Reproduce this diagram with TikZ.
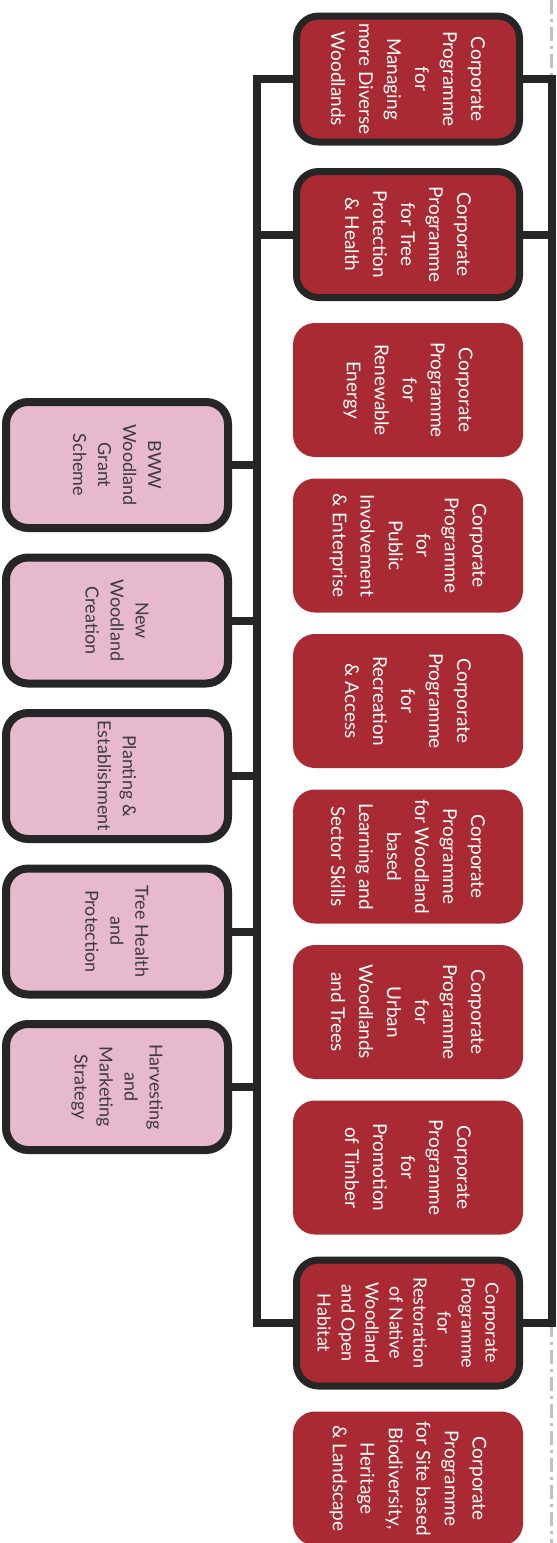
\documentclass[tikz,border=0pt]{standalone}
\usepackage{fontspec}
\setmainfont{Lato}
\usetikzlibrary{positioning,calc}
\definecolor{progred}{HTML}{A92A32}
\definecolor{themepink}{HTML}{E6B9CC}
\definecolor{linegrey}{HTML}{262626}
\definecolor{sepgrey}{HTML}{C0C0C0}

\tikzset{
  progbox/.style={rotate=-90, rounded corners=22pt, fill=progred, text=white, align=center,
    inner sep=0pt, minimum width=134pt, minimum height=230pt,
    font=\fontsize{19}{28}\selectfont},
  linkbox/.style={progbox, draw=linegrey, line width=7pt, minimum width=126pt, minimum height=223pt},
  themebox/.style={rotate=-90, rounded corners=22pt, fill=themepink, draw=linegrey, line width=8pt,
    text=linegrey!90, align=center, inner sep=0pt, minimum width=126pt, minimum height=222pt,
    font=\fontsize{18}{25}\selectfont},
  link/.style={draw=linegrey, line width=8pt}
}

\begin{document}
\begin{tikzpicture}[x=1pt, y=-1pt]
  \useasboundingbox (0,0) rectangle (557,1543);

  % Separator (runs under the right bracket)
  \draw[sepgrey, line width=3pt, dash pattern=on 14pt off 5pt on 3pt off 5pt] (551.5,0) -- (551.5,1543);

  % Corporate programmes (rotated: north = right, south = left)
  \node[linkbox] (manage) at (408,79) {Corporate\\Programme\\for\\Managing\\more Diverse\\Woodlands};
  \node[linkbox] (health) at (408,234.5) {Corporate\\Programme\\for Tree\\Protection\\\& Health};
  \node[progbox] (energy) at (408,390) {Corporate\\Programme\\for\\Renewable\\Energy};
  \node[progbox] (public) at (408,545.5) {Corporate\\Programme\\for\\Public\\Involvement\\\& Enterprise};
  \node[progbox] (recreation) at (408,701) {Corporate\\Programme\\for\\Recreation\\\& Access};
  \node[progbox] (learning) at (408,856.5) {Corporate\\Programme\\for Woodland\\based\\Learning and\\Sector Skills};
  \node[progbox] (urban) at (408,1012) {Corporate\\Programme\\for\\Urban\\Woodlands\\and Trees};
  \node[progbox] (timber) at (408,1167.5) {Corporate\\Programme\\for\\Promotion\\of Timber};
  \node[linkbox, font=\fontsize{18}{24}\selectfont] (native) at (408,1323)
    {Corporate\\Programme\\for\\Restoration\\of Native\\Woodland\\and Open\\Habitat};
  \node[progbox] (heritage) at (408,1478.5) {Corporate\\Programme\\for Site based\\Biodiversity,\\Heritage\\\& Landscape};

  % Themes
  \node[themebox] (grant) at (117,465) {BWW\\Woodland\\Grant\\Scheme};
  \node[themebox] (creation) at (117,620.5) {New\\Woodland\\Creation};
  \node[themebox] (planting) at (117,776) {Planting \&\\Establishment};
  \node[themebox] (treehealth) at (117,931.5) {Tree Health\\and\\Protection};
  \node[themebox] (harvest) at (117,1087) {Harvesting\\and\\Marketing\\Strategy};

  % Spines
  \coordinate (spineL) at (257,0);
  \coordinate (spineR) at (551.5,0);

  % Brackets
  \draw[link] (manage.south) -- (manage.south -| spineL) |- (native.south);
  \draw[link] (manage.north) -- (manage.north -| spineR) |- (native.north);
  \draw[link] (health.south) -- (health.south -| spineL);
  \draw[link] (health.north) -- (health.north -| spineR);

  % Theme links
  \draw[link] (grant.north) -- (grant.north -| spineL);
  \draw[link] (creation.north) -- (creation.north -| spineL);
  \draw[link] (planting.north) -- (planting.north -| spineL);
  \draw[link] (treehealth.north) -- (treehealth.north -| spineL);
  \draw[link] (harvest.north) -- (harvest.north -| spineL);
\end{tikzpicture}
\end{document}
